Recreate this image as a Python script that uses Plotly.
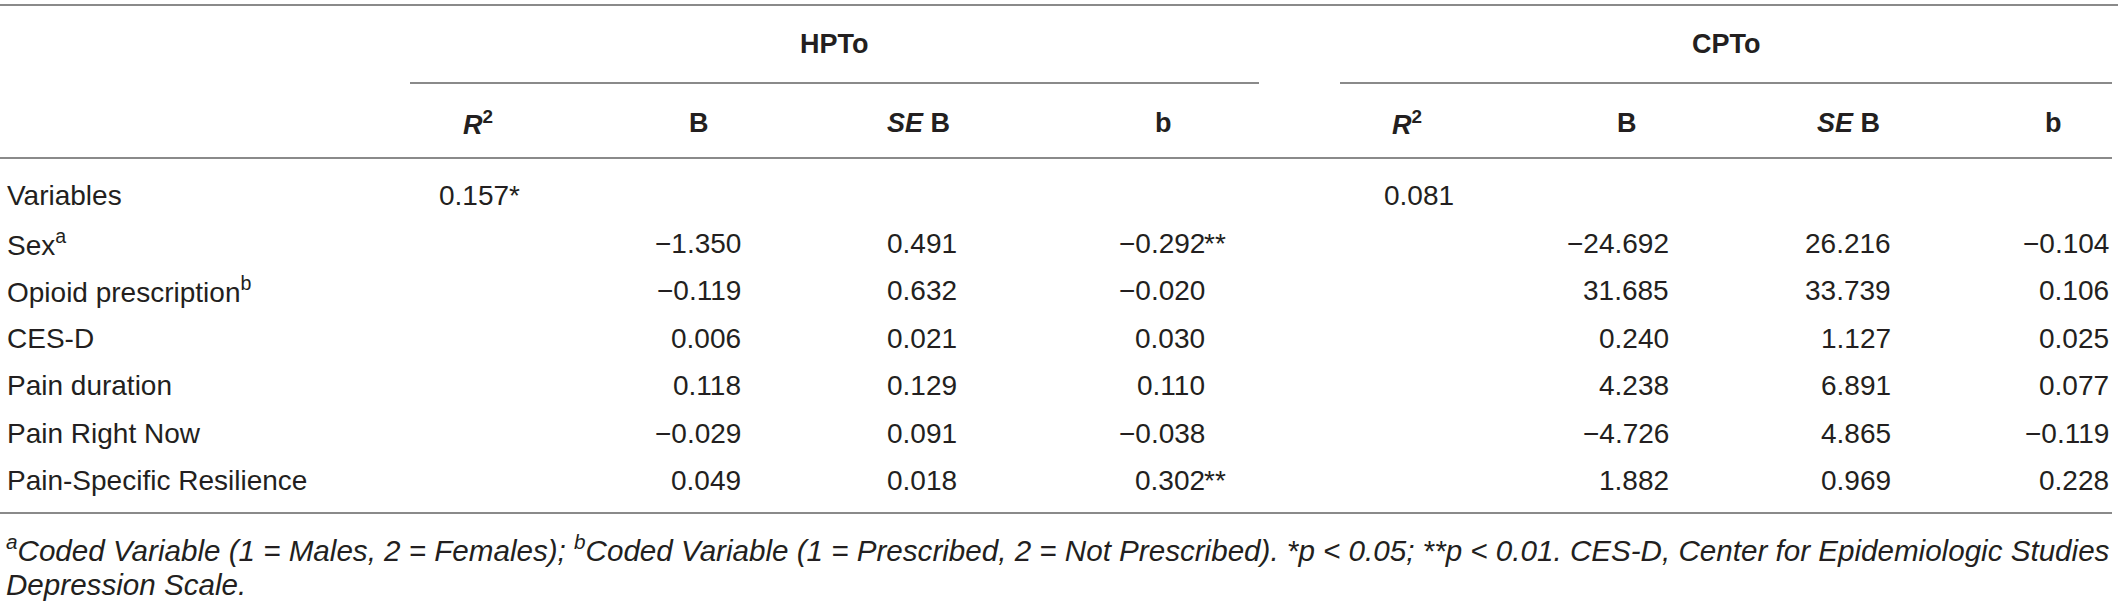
import plotly.graph_objects as go

W, H = 2118, 605

# table content
row_labels = ["Variables", "Sex<sup>a</sup>", "Opioid prescription<sup>b</sup>", "CES-D",
              "Pain duration", "Pain Right Now", "Pain-Specific Resilience"]
hpto_r2 = ["0.157*", "", "", "", "", "", ""]
hpto_B = ["", "−1.350", "−0.119", "0.006", "0.118", "−0.029", "0.049"]
hpto_SE = ["", "0.491", "0.632", "0.021", "0.129", "0.091", "0.018"]
hpto_b = ["", "−0.292", "−0.020", "0.030", "0.110", "−0.038", "0.302"]
hpto_b_sig = ["", "**", "", "", "", "", "**"]
cpto_r2 = ["0.081", "", "", "", "", "", ""]
cpto_B = ["", "−24.692", "31.685", "0.240", "4.238", "−4.726", "1.882"]
cpto_SE = ["", "26.216", "33.739", "1.127", "6.891", "4.865", "0.969"]
cpto_b = ["", "−0.104", "0.106", "0.025", "0.077", "−0.119", "0.228"]
cpto_b_sig = ["", "", "", "", "", "", ""]

groups = ["HPTo", "CPTo"]
sub_headers = ["<i>R</i><sup>2</sup>", "B", "<i>SE</i> B", "b"]

footnote1 = ("<sup>a</sup>Coded Variable (1 = Males, 2 = Females); <sup>b</sup>Coded Variable "
             "(1 = Prescribed, 2 = Not Prescribed). *<i>p</i> < 0.05; **<i>p</i> < 0.01. "
             "CES-D, Center for Epidemiologic Studies")
footnote2 = "Depression Scale."

# layout (pixel coordinates)
FONT = "Liberation Sans"
FS = 28
TXT = "#231f20"
LINE = "#8a8a8a"
row_y = [195, 243, 290, 338, 385, 433, 480]
r2_left = [437, 1382]
num_right = [[743, 959, 1207], [1671, 1893, 2111]]
head_x = [[478, 699, 918, 1163], [1407, 1627, 1848, 2053]]
group_span = [(410, 1259), (1340, 2112)]

fig = go.Figure()
fig.add_trace(go.Scatter(x=[0, W], y=[0, H], mode="markers",
                         marker=dict(opacity=0), hoverinfo="skip", showlegend=False))


def txt(x, y, s, anchor, size=FS, italic=False):
    fig.add_annotation(x=x, y=y, xref="x", yref="y", text=s, showarrow=False,
                       xanchor=anchor, yanchor="middle",
                       font=dict(family=FONT, size=size, color=TXT,
                                 style="italic" if italic else "normal"))


# header
for k, g in enumerate(groups):
    x0, x1 = group_span[k]
    txt((x0 + x1) / 2, 44, "<b>" + g + "</b>", "center", size=27)
    fig.add_shape(type="line", x0=x0, x1=x1, y0=83, y1=83, line=dict(color=LINE, width=2))
    for h, hx in zip(sub_headers, head_x[k]):
        txt(hx, 123, "<b>" + h + "</b>", "center", size=27)

for y, x1 in [(5, W), (158, 2112), (513, 2112)]:
    fig.add_shape(type="line", x0=0, x1=x1, y0=y, y1=y, line=dict(color=LINE, width=2))

# body
cols = [(hpto_B, hpto_SE, hpto_b), (cpto_B, cpto_SE, cpto_b)]
sigs = [hpto_b_sig, cpto_b_sig]
for i, y in enumerate(row_y):
    txt(5, y, row_labels[i], "left")
    for k, r2 in enumerate([hpto_r2, cpto_r2]):
        if r2[i]:
            txt(r2_left[k], y, r2[i], "left")
        for vals, xr in zip(cols[k], num_right[k]):
            if vals[i]:
                txt(xr, y, vals[i], "right")
        if sigs[k][i]:
            # asterisks hang past the aligned digits
            txt(num_right[k][2] - 5, y, sigs[k][i], "left")

txt(4, 548, footnote1, "left", size=29.6, italic=True)
txt(4, 584, footnote2, "left", size=29.6, italic=True)

fig.update_xaxes(range=[0, W], visible=False, fixedrange=True)
fig.update_yaxes(range=[H, 0], visible=False, fixedrange=True)
fig.update_layout(width=W, height=H, margin=dict(l=0, r=0, t=0, b=0),
                  plot_bgcolor="white", paper_bgcolor="white")

fig.write_html("out.html", config={"displayModeBar": False},
               post_script="document.body.style.margin = '0px';")
